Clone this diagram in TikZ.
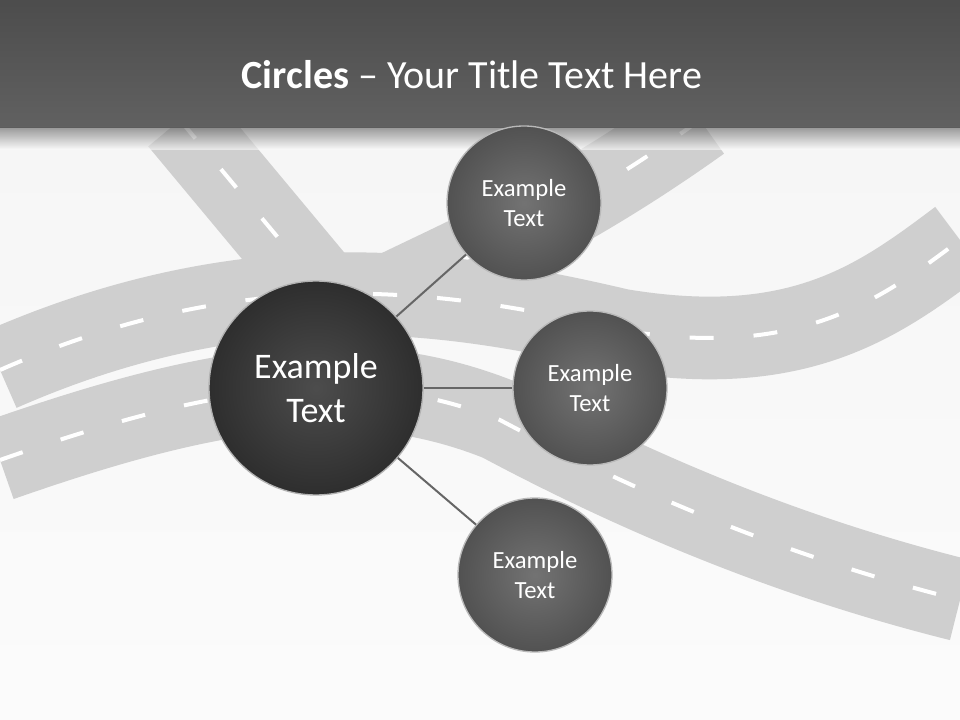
\documentclass[tikz,border=0pt]{standalone}
\usepackage{fontspec}
\setmainfont{Carlito}
\begin{document}
\begin{tikzpicture}[x=0.75pt,y=-0.75pt,
  road/.style={line width=62pt,draw=gray!38,line cap=butt},
  cline/.style={draw=white,line width=3pt,dash pattern=on 18pt off 30pt},
  big/.style={circle,minimum size=214*0.75pt,draw=gray!60,line width=1pt,shading=radial,inner color=black!70,outer color=black!82,text=white,font=\fontsize{27}{33}\selectfont,align=center},
  small/.style={circle,minimum size=154*0.75pt,draw=gray!55,line width=1pt,shading=radial,inner color=black!55,outer color=black!68,text=white,font=\fontsize{18.5}{23}\selectfont,align=center},
  link/.style={draw=black!60,line width=1.5pt}]
\useasboundingbox (0,0) rectangle (960,720);
\shade[top color=gray!8,bottom color=gray!3] (0,0) rectangle (960,720);
% roads
\draw[road] (180,120) -- (330,300);
\draw[cline] (180,120) -- (330,300);
\draw[road] (700,120) .. controls (560,220) and (460,260) .. (380,300);
\draw[cline] (700,120) .. controls (560,220) and (460,260) .. (380,300);
\draw[road] (0,370) .. controls (250,260) and (450,290) .. (620,330) .. controls (800,360) and (880,300) .. (960,240);
\draw[cline] (0,370) .. controls (250,260) and (450,290) .. (620,330) .. controls (800,360) and (880,300) .. (960,240);
\draw[road] (0,460) .. controls (200,390) and (350,360) .. (500,420) .. controls (650,500) and (800,560) .. (960,600);
\draw[cline] (0,460) .. controls (200,390) and (350,360) .. (500,420) .. controls (650,500) and (800,560) .. (960,600);
% header
\shade[top color=black!70,bottom color=black!62] (0,0) rectangle (960,128);
\shade[top color=black!62,bottom color=white,opacity=0.6] (0,128) rectangle (960,150);
\node[text=white,font=\fontsize{30}{36}\selectfont] (title) at (472,75) {\textbf{Circles} -- Your Title Text Here};
% circles
\node[big] (c) at (316,388) {Example\\Text};
\node[small] (a) at (524,203) {Example\\Text};
\node[small] (b) at (590,388) {Example\\Text};
\node[small] (d) at (535,575) {Example\\Text};
\draw[link] (c) -- (a);
\draw[link] (c) -- (b);
\draw[link] (c) -- (d);
\end{tikzpicture}
\end{document}
